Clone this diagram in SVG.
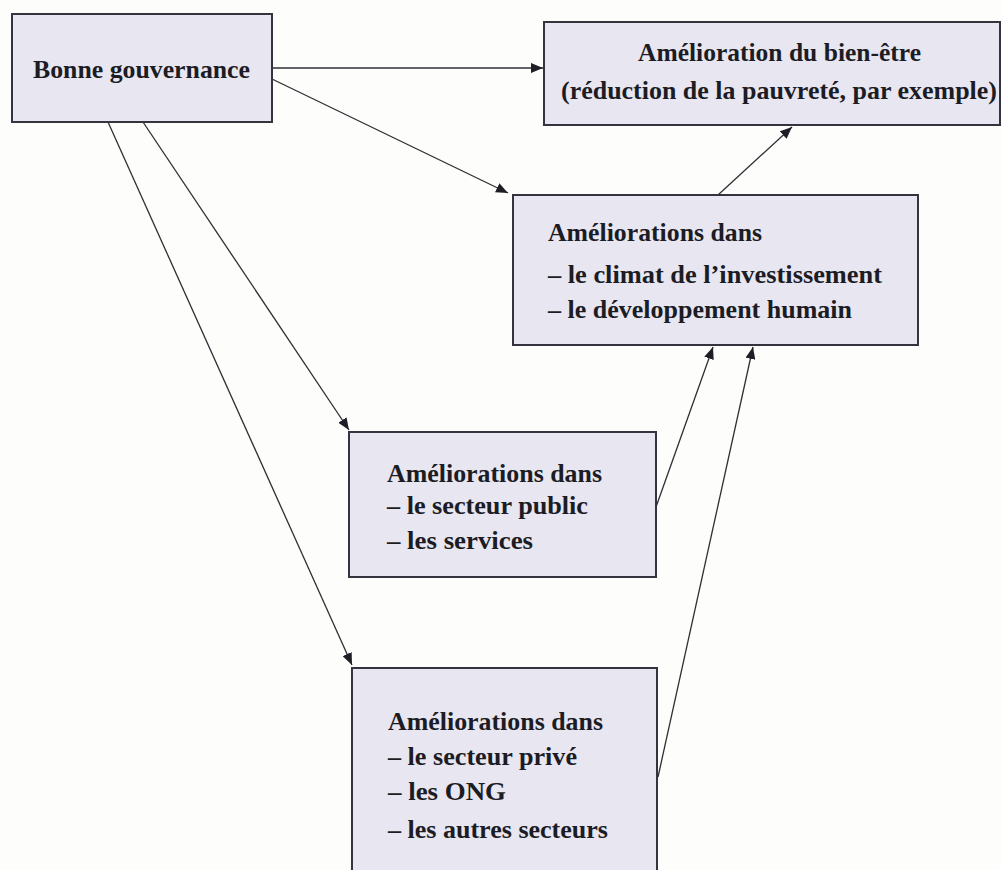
<svg xmlns="http://www.w3.org/2000/svg" width="1001" height="870" viewBox="0 0 1001 870">
<style>
.box{fill:#e8e6f1;stroke:#34343f;stroke-width:2}
.t{font-family:"Liberation Serif","Times New Roman",serif;font-size:25px;font-weight:bold;fill:#1c1c24}
.c{fill:none;stroke:#2e2e36;stroke-width:1.3}
</style>
<defs>
<marker id="ah" viewBox="0 0 12 10" refX="12" refY="5" markerWidth="12" markerHeight="10" markerUnits="userSpaceOnUse" orient="auto">
<path d="M0,0 L12,5 L0,10 Z" fill="#1e1e26"/>
</marker>
</defs>
<rect width="1001" height="870" fill="#fdfdfb"/>
<g id="connectors">
<line class="c" x1="272" y1="68" x2="543" y2="68" marker-end="url(#ah)"/>
<line class="c" x1="272" y1="79" x2="508" y2="193" marker-end="url(#ah)"/>
<line class="c" x1="143" y1="122" x2="349" y2="430" marker-end="url(#ah)"/>
<line class="c" x1="108" y1="122" x2="352" y2="665" marker-end="url(#ah)"/>
<line class="c" x1="718" y1="195" x2="792" y2="127" marker-end="url(#ah)"/>
<line class="c" x1="656" y1="507" x2="713" y2="347" marker-end="url(#ah)"/>
<line class="c" x1="658" y1="777" x2="753" y2="347" marker-end="url(#ah)"/>
</g>
<g id="n1">
<rect class="box" x="12" y="14" width="260" height="108"/>
<text class="t" x="33" y="78" textLength="217" lengthAdjust="spacingAndGlyphs">Bonne gouvernance</text>
</g>
<g id="n2">
<rect class="box" x="544" y="22" width="456" height="103"/>
<text class="t" x="638" y="61" textLength="283" lengthAdjust="spacingAndGlyphs">Amélioration du bien-être</text>
<text class="t" x="561" y="99" textLength="436" lengthAdjust="spacingAndGlyphs">(réduction de la pauvreté, par exemple)</text>
</g>
<g id="n3">
<rect class="box" x="513" y="195" width="405" height="150"/>
<text class="t" x="548" y="241" textLength="214" lengthAdjust="spacingAndGlyphs">Améliorations dans</text>
<text class="t" x="548" y="283" textLength="334" lengthAdjust="spacingAndGlyphs">– le climat de l’investissement</text>
<text class="t" x="548" y="318" textLength="304" lengthAdjust="spacingAndGlyphs">– le développement humain</text>
</g>
<g id="n4">
<rect class="box" x="349" y="432" width="307" height="145"/>
<text class="t" x="387" y="482" textLength="215" lengthAdjust="spacingAndGlyphs">Améliorations dans</text>
<text class="t" x="387" y="514" textLength="201" lengthAdjust="spacingAndGlyphs">– le secteur public</text>
<text class="t" x="387" y="549" textLength="146" lengthAdjust="spacingAndGlyphs">– les services</text>
</g>
<g id="n5">
<rect class="box" x="352" y="668" width="305" height="215"/>
<text class="t" x="388" y="730" textLength="215" lengthAdjust="spacingAndGlyphs">Améliorations dans</text>
<text class="t" x="388" y="765" textLength="189" lengthAdjust="spacingAndGlyphs">– le secteur privé</text>
<text class="t" x="388" y="800" textLength="118" lengthAdjust="spacingAndGlyphs">– les ONG</text>
<text class="t" x="388" y="838" textLength="220" lengthAdjust="spacingAndGlyphs">– les autres secteurs</text>
</g>
</svg>
